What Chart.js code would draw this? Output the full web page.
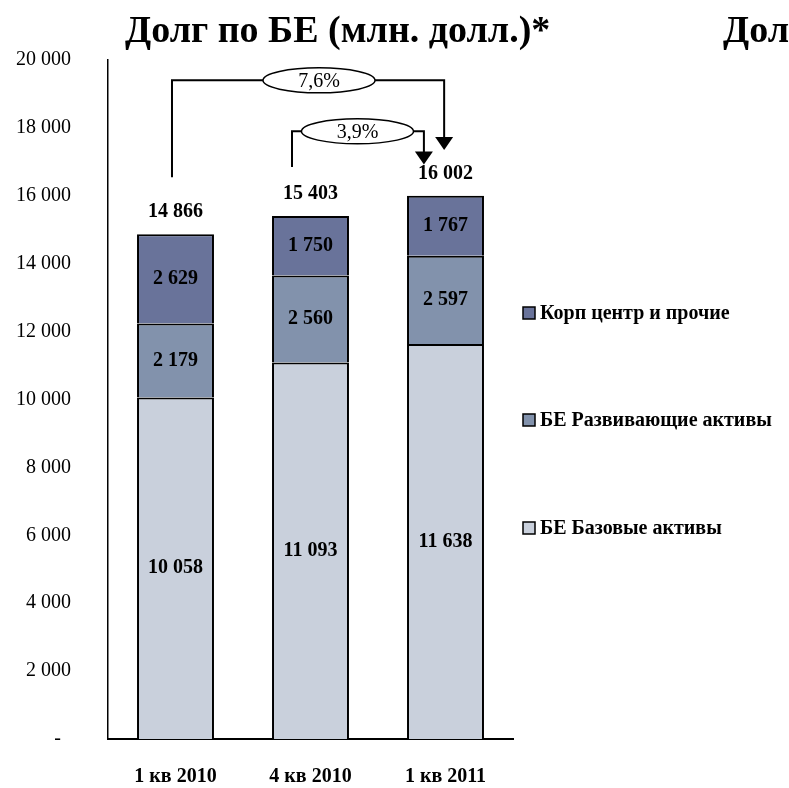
<!DOCTYPE html>
<html>
<head>
<meta charset="utf-8">
<script src="https://cdn.jsdelivr.net/npm/chart.js@4.4.1/dist/chart.umd.min.js"></script>
<style>
  html, body { margin: 0; padding: 0; background: #fff; }
  #wrap { width: 789px; height: 788px; position: relative; }
</style>
</head>
<body>
<div id="wrap"><canvas id="c" width="789" height="788"></canvas></div>
<script>
// ---- data ----
const categories = ['1 кв 2010', '4 кв 2010', '1 кв 2011'];
const baseAssets = [10058, 11093, 11638];
const devAssets = [2179, 2560, 2597];
const corpOther = [2629, 1750, 1767];
const seriesNames = ['БЕ Базовые активы', 'БЕ Развивающие активы', 'Корп центр и прочие'];
const yMin = 0, yMax = 20000, yStep = 2000;
const chartTitle = 'Долг по БЕ (млн. долл.)*';
const cutTitle = 'Долг';
const growthLabels = ['7,6%', '3,9%'];
const growthFrom = [0, 1];
const growthTo = [2, 2];

// ---- styles ----
const SERIF = '"Liberation Serif", "Times New Roman", serif';
const colors = ['#C9D0DC', '#8292AC', '#69739A'];
// bracket geometry in scale units (category index / y value)
const bracketGeom = [
  { left: -0.026, right: 1.99, mid: 1.063, level: 19400, start: 16550, tip: 17350 },
  { left: 0.863, right: 1.84, mid: 1.348, level: 17900, start: 16850, tip: 16920 }
];

const fmt = n => (n === 0 ? '-' : String(n).replace(/\B(?=(\d{3})+(?!\d))/g, ' '));
const totals = categories.map((_, i) => baseAssets[i] + devAssets[i] + corpOther[i]);

const overlay = {
  id: 'overlay',
  afterDatasetsDraw(chart) {
    const ctx = chart.ctx;
    const xs = chart.scales.x, ys = chart.scales.y;
    ctx.save();
    ctx.fillStyle = '#000';
    ctx.textAlign = 'center';
    ctx.textBaseline = 'middle';
    ctx.font = 'bold 20px ' + SERIF;
    // segment labels
    chart.data.datasets.forEach((ds, di) => {
      const meta = chart.getDatasetMeta(di);
      meta.data.forEach((el, i) => {
        const cy = (el.y + el.base) / 2;
        ctx.fillText(fmt(ds.data[i]), el.x, cy);
      });
    });
    // totals
    const topMeta = chart.getDatasetMeta(chart.data.datasets.length - 1);
    topMeta.data.forEach((el, i) => {
      ctx.fillText(fmt(totals[i]), el.x, el.y - 22);
    });

    // brackets
    ctx.strokeStyle = '#000';
    ctx.lineWidth = 2;
    bracketGeom.forEach((g, k) => {
      const xl = xs.getPixelForValue(g.left);
      const xr = xs.getPixelForValue(g.right);
      const xm = xs.getPixelForValue(g.mid);
      const yl = ys.getPixelForValue(g.level);
      const ys0 = ys.getPixelForValue(g.start);
      const yt = ys.getPixelForValue(g.tip);
      const rx = 56, ry = 12.5;
      ctx.beginPath();
      ctx.moveTo(xl, ys0);
      ctx.lineTo(xl, yl);
      ctx.lineTo(xm - rx, yl);
      ctx.moveTo(xm + rx, yl);
      ctx.lineTo(xr, yl);
      ctx.lineTo(xr, yt - 12);
      ctx.stroke();
      // arrowhead
      ctx.beginPath();
      ctx.moveTo(xr - 9, yt - 13);
      ctx.lineTo(xr + 9, yt - 13);
      ctx.lineTo(xr, yt);
      ctx.closePath();
      ctx.fill();
      // ellipse
      ctx.beginPath();
      ctx.ellipse(xm, yl, rx, ry, 0, 0, Math.PI * 2);
      ctx.fillStyle = '#fff';
      ctx.fill();
      ctx.lineWidth = 1.5;
      ctx.stroke();
      ctx.lineWidth = 2;
      ctx.fillStyle = '#000';
      ctx.font = '20px ' + SERIF;
      ctx.fillText(growthLabels[k], xm, yl + 1);
    });

    // title
    ctx.textAlign = 'left';
    ctx.textBaseline = 'alphabetic';
    ctx.font = 'bold 38px ' + SERIF;
    ctx.fillText(chartTitle, 125, 42);
    ctx.fillText(cutTitle, 723, 42);

    // legend (top series first)
    const legendY = [313, 420, 528];
    ctx.font = 'bold 20px ' + SERIF;
    ctx.textBaseline = 'middle';
    const order = [2, 1, 0];
    order.forEach((di, k) => {
      const y = legendY[k];
      ctx.fillStyle = colors[di];
      ctx.fillRect(523, y - 6, 12, 12);
      ctx.strokeStyle = '#000';
      ctx.lineWidth = 1.5;
      ctx.strokeRect(523, y - 6, 12, 12);
      ctx.fillStyle = '#000';
      ctx.fillText(seriesNames[di], 540, y + 1);
    });
    ctx.restore();
  }
};

new Chart(document.getElementById('c'), {
  type: 'bar',
  data: {
    labels: categories,
    datasets: [
      { label: seriesNames[0], data: baseAssets, backgroundColor: colors[0] },
      { label: seriesNames[1], data: devAssets, backgroundColor: colors[1] },
      { label: seriesNames[2], data: corpOther, backgroundColor: colors[2] }
    ].map(d => Object.assign(d, {
      borderColor: '#000', borderWidth: 2,
      categoryPercentage: 1, barPercentage: 0.57
    }))
  },
  options: {
    responsive: false,
    animation: false,
    devicePixelRatio: 1,
    layout: { padding: { left: 0, right: 276, top: 60, bottom: 0 } },
    plugins: { legend: { display: false }, title: { display: false }, tooltip: { enabled: false } },
    scales: {
      x: {
        stacked: true,
        grid: { display: false, drawTicks: false },
        border: { display: true, color: '#000', width: 2 },
        ticks: { color: '#000', font: { family: SERIF, size: 20, weight: 'bold' }, padding: 26, maxRotation: 0 },
        afterFit(s) { s.height = 45; }
      },
      y: {
        stacked: true,
        min: yMin, max: yMax,
        grid: { display: false, drawTicks: false },
        border: { display: true, color: '#000', width: 1.5 },
        ticks: {
          stepSize: yStep, color: '#000', padding: 37,
          font: { family: SERIF, size: 20 },
          callback: v => (v === 0 ? '-  ' : fmt(v))
        },
        afterFit(s) { s.width = 108; }
      }
    }
  },
  plugins: [overlay]
});
</script>
</body>
</html>
